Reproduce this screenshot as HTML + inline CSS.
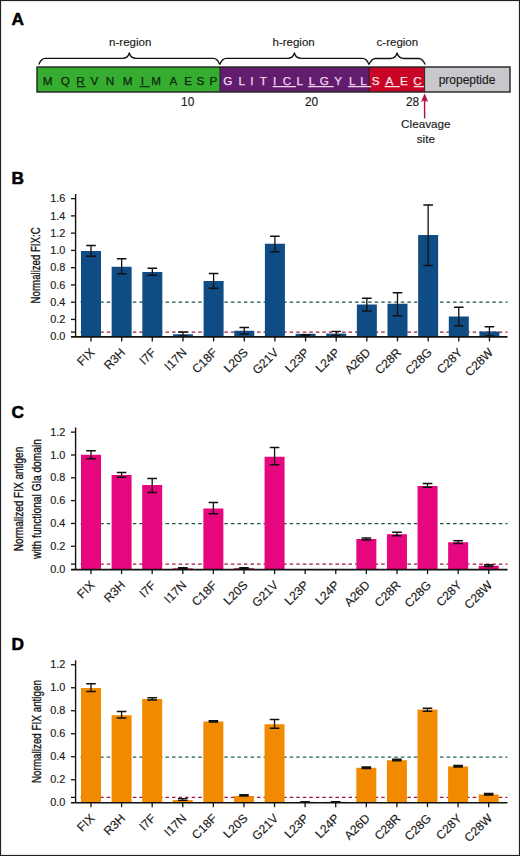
<!DOCTYPE html><html><head><meta charset="utf-8"><style>html,body{margin:0;padding:0;background:#fff;}svg{display:block;font-family:"Liberation Sans", sans-serif;}.t{fill:#1a1a1a;stroke:#1a1a1a;stroke-width:0.15px;}.yl{fill:#111;stroke:#111;stroke-width:0.32px;}</style></head><body>
<svg width="520" height="856" viewBox="0 0 520 856">
<rect x="0" y="0" width="520" height="856" fill="#fff"/>
<text x="11.6" y="24.9" font-size="17.3" font-weight="bold" fill="#000" stroke="#000" stroke-width="0.55" stroke-linejoin="round">A</text>
<text x="11.6" y="183.9" font-size="17.3" font-weight="bold" fill="#000" stroke="#000" stroke-width="0.55" stroke-linejoin="round">B</text>
<text x="11.6" y="417.9" font-size="17.3" font-weight="bold" fill="#000" stroke="#000" stroke-width="0.55" stroke-linejoin="round">C</text>
<text x="11.6" y="649.9" font-size="17.3" font-weight="bold" fill="#000" stroke="#000" stroke-width="0.55" stroke-linejoin="round">D</text>
<rect x="37" y="67.0" width="183" height="25.0" fill="#36ad30"/>
<rect x="220" y="67.0" width="149" height="25.0" fill="#621d6e"/>
<rect x="369" y="67.0" width="55.6" height="25.0" fill="#c80526"/>
<rect x="424.6" y="67.0" width="85.4" height="25.0" fill="#c8c7cb"/>
<rect x="37" y="67.0" width="473" height="25.0" fill="none" stroke="#222" stroke-width="1.4"/>
<path d="M220 67.0V92.0M369 67.0V92.0M424.6 67.0V92.0" stroke="#222" stroke-width="1" fill="none"/>
<text x="47.50" y="84.6" text-anchor="middle" font-size="11.7" fill="#0c2a0c" stroke="#0c2a0c" stroke-width="0.25">M</text>
<text x="65.40" y="84.6" text-anchor="middle" font-size="11.7" fill="#0c2a0c" stroke="#0c2a0c" stroke-width="0.25">Q</text>
<text x="80.40" y="84.6" text-anchor="middle" font-size="11.7" fill="#0c2a0c" stroke="#0c2a0c" stroke-width="0.25">R</text>
<text x="94.50" y="84.6" text-anchor="middle" font-size="11.7" fill="#0c2a0c" stroke="#0c2a0c" stroke-width="0.25">V</text>
<text x="109.90" y="84.6" text-anchor="middle" font-size="11.7" fill="#0c2a0c" stroke="#0c2a0c" stroke-width="0.25">N</text>
<text x="127.50" y="84.6" text-anchor="middle" font-size="11.7" fill="#0c2a0c" stroke="#0c2a0c" stroke-width="0.25">M</text>
<text x="142.30" y="84.6" text-anchor="middle" font-size="11.7" fill="#0c2a0c" stroke="#0c2a0c" stroke-width="0.25">I</text>
<text x="156.20" y="84.6" text-anchor="middle" font-size="11.7" fill="#0c2a0c" stroke="#0c2a0c" stroke-width="0.25">M</text>
<text x="173.50" y="84.6" text-anchor="middle" font-size="11.7" fill="#0c2a0c" stroke="#0c2a0c" stroke-width="0.25">A</text>
<text x="188.20" y="84.6" text-anchor="middle" font-size="11.7" fill="#0c2a0c" stroke="#0c2a0c" stroke-width="0.25">E</text>
<text x="200.50" y="84.6" text-anchor="middle" font-size="11.7" fill="#0c2a0c" stroke="#0c2a0c" stroke-width="0.25">S</text>
<text x="213.30" y="84.6" text-anchor="middle" font-size="11.7" fill="#0c2a0c" stroke="#0c2a0c" stroke-width="0.25">P</text>
<text x="227.70" y="84.6" text-anchor="middle" font-size="11.7" fill="#f2d6f2" stroke="#f2d6f2" stroke-width="0.25">G</text>
<text x="241.70" y="84.6" text-anchor="middle" font-size="11.7" fill="#f2d6f2" stroke="#f2d6f2" stroke-width="0.25">L</text>
<text x="251.90" y="84.6" text-anchor="middle" font-size="11.7" fill="#f2d6f2" stroke="#f2d6f2" stroke-width="0.25">I</text>
<text x="263.30" y="84.6" text-anchor="middle" font-size="11.7" fill="#f2d6f2" stroke="#f2d6f2" stroke-width="0.25">T</text>
<text x="274.50" y="84.6" text-anchor="middle" font-size="11.7" fill="#f2d6f2" stroke="#f2d6f2" stroke-width="0.25">I</text>
<text x="286.90" y="84.6" text-anchor="middle" font-size="11.7" fill="#f2d6f2" stroke="#f2d6f2" stroke-width="0.25">C</text>
<text x="299.70" y="84.6" text-anchor="middle" font-size="11.7" fill="#f2d6f2" stroke="#f2d6f2" stroke-width="0.25">L</text>
<text x="311.90" y="84.6" text-anchor="middle" font-size="11.7" fill="#f2d6f2" stroke="#f2d6f2" stroke-width="0.25">L</text>
<text x="324.40" y="84.6" text-anchor="middle" font-size="11.7" fill="#f2d6f2" stroke="#f2d6f2" stroke-width="0.25">G</text>
<text x="338.10" y="84.6" text-anchor="middle" font-size="11.7" fill="#f2d6f2" stroke="#f2d6f2" stroke-width="0.25">Y</text>
<text x="352.20" y="84.6" text-anchor="middle" font-size="11.7" fill="#f2d6f2" stroke="#f2d6f2" stroke-width="0.25">L</text>
<text x="363.40" y="84.6" text-anchor="middle" font-size="11.7" fill="#f2d6f2" stroke="#f2d6f2" stroke-width="0.25">L</text>
<text x="375.70" y="84.6" text-anchor="middle" font-size="11.7" fill="#fde2e8" stroke="#fde2e8" stroke-width="0.25">S</text>
<text x="389.40" y="84.6" text-anchor="middle" font-size="11.7" fill="#fde2e8" stroke="#fde2e8" stroke-width="0.25">A</text>
<text x="404.00" y="84.6" text-anchor="middle" font-size="11.7" fill="#fde2e8" stroke="#fde2e8" stroke-width="0.25">E</text>
<text x="417.60" y="84.6" text-anchor="middle" font-size="11.7" fill="#fde2e8" stroke="#fde2e8" stroke-width="0.25">C</text>
<path d="M76.9 86.6H85.4M139.6 86.6H149.6" stroke="#0c2a0c" stroke-width="1.1"/>
<path d="M272.7 86.6H295.8M308.1 86.6H333.8M348.1 86.6H369" stroke="#f2d6f2" stroke-width="1.1"/>
<path d="M369 86.6H371.3M384.6 86.6H399.8M413.6 86.6H424" stroke="#fde2e8" stroke-width="1.1"/>
<text x="467" y="84.2" text-anchor="middle" font-size="12" class="t">propeptide</text>
<text x="187.7" y="106.4" text-anchor="middle" font-size="11.9" class="t">10</text>
<text x="311.6" y="106.4" text-anchor="middle" font-size="11.9" class="t">20</text>
<text x="412.6" y="106.4" text-anchor="middle" font-size="11.9" class="t">28</text>
<path d="M424.6 99V118.4" stroke="#b0103c" stroke-width="1.4"/>
<path d="M424.6 93.8L427.8 101.6Q424.6 99.6 421.4 101.6Z" fill="#b0103c" stroke="#b0103c" stroke-width="0.4" stroke-linejoin="round"/>
<text x="425.8" y="128.4" text-anchor="middle" font-size="11.7" class="t">Cleavage</text>
<text x="425.8" y="143.4" text-anchor="middle" font-size="11.7" class="t">site</text>
<path d="M38.80 64.40C40.42 60.50 41.72 58.40 45.30 58.40H122.30C126.15 58.40 128.46 55.97 129.30 53.00C130.14 55.97 132.45 58.40 136.30 58.40H213.30C216.88 58.40 218.18 60.50 219.80 64.40" stroke="#111" stroke-width="1.3" fill="none" stroke-linejoin="round"/>
<path d="M219.80 64.40C221.43 60.50 222.73 58.40 226.30 58.40H287.40C291.25 58.40 293.56 55.97 294.40 53.00C295.24 55.97 297.55 58.40 301.40 58.40H362.50C366.07 58.40 367.38 60.50 369.00 64.40" stroke="#111" stroke-width="1.3" fill="none" stroke-linejoin="round"/>
<path d="M369.00 64.60C370.62 60.63 371.93 58.50 375.50 58.50H390.10C393.95 58.50 396.26 56.02 397.10 53.00C397.94 56.02 400.25 58.50 404.10 58.50H418.70C422.27 58.50 423.57 60.63 425.20 64.60" stroke="#111" stroke-width="1.3" fill="none" stroke-linejoin="round"/>
<text x="130.2" y="45.6" text-anchor="middle" font-size="11.5" class="t">n-region</text>
<text x="293.6" y="45.6" text-anchor="middle" font-size="11.5" class="t">h-region</text>
<text x="397.4" y="45.8" text-anchor="middle" font-size="11.5" class="t">c-region</text>
<line x1="80.56" y1="302.20" x2="507.5" y2="302.20" stroke="#1a5444" stroke-width="1.3" stroke-dasharray="3.5 3.036"/>
<line x1="80.56" y1="332.10" x2="507.5" y2="332.10" stroke="#9c1c36" stroke-width="1.3" stroke-dasharray="3.5 3.036"/>
<path d="M71.00 332.10H75.60" stroke="#111" stroke-width="1.3"/>
<rect x="81.00" y="251.00" width="20.0" height="85.90" fill="#0f4c84"/>
<rect x="111.65" y="266.75" width="20.0" height="70.15" fill="#0f4c84"/>
<rect x="142.30" y="272.00" width="20.0" height="64.90" fill="#0f4c84"/>
<rect x="172.95" y="334.25" width="20.0" height="2.65" fill="#0f4c84"/>
<rect x="203.60" y="281.00" width="20.0" height="55.90" fill="#0f4c84"/>
<rect x="234.25" y="330.75" width="20.0" height="6.15" fill="#0f4c84"/>
<rect x="264.90" y="243.75" width="20.0" height="93.15" fill="#0f4c84"/>
<rect x="295.55" y="333.80" width="20.0" height="3.10" fill="#0f4c84"/>
<rect x="326.20" y="333.60" width="20.0" height="3.30" fill="#0f4c84"/>
<rect x="356.85" y="304.50" width="20.0" height="32.40" fill="#0f4c84"/>
<rect x="387.50" y="303.75" width="20.0" height="33.15" fill="#0f4c84"/>
<rect x="418.15" y="235.00" width="20.0" height="101.90" fill="#0f4c84"/>
<rect x="448.80" y="316.50" width="20.0" height="20.40" fill="#0f4c84"/>
<rect x="479.45" y="331.50" width="20.0" height="5.40" fill="#0f4c84"/>
<path d="M86.20 245.50H95.80M91.00 245.50V256.25M86.20 256.25H95.80" stroke="#111" stroke-width="1.3" fill="none"/>
<path d="M116.85 258.75H126.45M121.65 258.75V273.75M116.85 273.75H126.45" stroke="#111" stroke-width="1.3" fill="none"/>
<path d="M147.50 268.25H157.10M152.30 268.25V275.25M147.50 275.25H157.10" stroke="#111" stroke-width="1.3" fill="none"/>
<path d="M178.15 332.00H187.75M182.95 332.00V336.00M178.15 336.00H187.75" stroke="#111" stroke-width="1.3" fill="none"/>
<path d="M208.80 273.50H218.40M213.60 273.50V288.25M208.80 288.25H218.40" stroke="#111" stroke-width="1.3" fill="none"/>
<path d="M239.45 327.50H249.05M244.25 327.50V334.00M239.45 334.00H249.05" stroke="#111" stroke-width="1.3" fill="none"/>
<path d="M270.10 236.25H279.70M274.90 236.25V251.75M270.10 251.75H279.70" stroke="#111" stroke-width="1.3" fill="none"/>
<path d="M300.75 334.60H310.35M305.55 334.60V335.40M300.75 335.40H310.35" stroke="#111" stroke-width="1.3" fill="none"/>
<path d="M331.40 331.40H341.00M336.20 331.40V335.50M331.40 335.50H341.00" stroke="#111" stroke-width="1.3" fill="none"/>
<path d="M362.05 298.25H371.65M366.85 298.25V311.00M362.05 311.00H371.65" stroke="#111" stroke-width="1.3" fill="none"/>
<path d="M392.70 292.75H402.30M397.50 292.75V315.75M392.70 315.75H402.30" stroke="#111" stroke-width="1.3" fill="none"/>
<path d="M423.35 205.00H432.95M428.15 205.00V265.50M423.35 265.50H432.95" stroke="#111" stroke-width="1.3" fill="none"/>
<path d="M454.00 307.25H463.60M458.80 307.25V325.75M454.00 325.75H463.60" stroke="#111" stroke-width="1.3" fill="none"/>
<path d="M484.65 326.75H494.25M489.45 326.75V336.00M484.65 336.00H494.25" stroke="#111" stroke-width="1.3" fill="none"/>
<path d="M75.60 194.00V336.90" stroke="#111" stroke-width="1.4" fill="none"/>
<path d="M71.00 336.90H507.5" stroke="#111" stroke-width="1.6" fill="none"/>
<text x="65.3" y="340.40" text-anchor="end" font-size="10.9" class="t">0.0</text>
<path d="M71.00 319.44H75.60" stroke="#111" stroke-width="1.3"/>
<text x="65.3" y="323.14" text-anchor="end" font-size="10.9" class="t">0.2</text>
<path d="M71.00 302.18H75.60" stroke="#111" stroke-width="1.3"/>
<text x="65.3" y="305.88" text-anchor="end" font-size="10.9" class="t">0.4</text>
<path d="M71.00 284.92H75.60" stroke="#111" stroke-width="1.3"/>
<text x="65.3" y="288.62" text-anchor="end" font-size="10.9" class="t">0.6</text>
<path d="M71.00 267.66H75.60" stroke="#111" stroke-width="1.3"/>
<text x="65.3" y="271.36" text-anchor="end" font-size="10.9" class="t">0.8</text>
<path d="M71.00 250.40H75.60" stroke="#111" stroke-width="1.3"/>
<text x="65.3" y="254.10" text-anchor="end" font-size="10.9" class="t">1.0</text>
<path d="M71.00 233.14H75.60" stroke="#111" stroke-width="1.3"/>
<text x="65.3" y="236.84" text-anchor="end" font-size="10.9" class="t">1.2</text>
<path d="M71.00 215.88H75.60" stroke="#111" stroke-width="1.3"/>
<text x="65.3" y="219.58" text-anchor="end" font-size="10.9" class="t">1.4</text>
<path d="M71.00 198.62H75.60" stroke="#111" stroke-width="1.3"/>
<text x="65.3" y="202.32" text-anchor="end" font-size="10.9" class="t">1.6</text>
<path d="M91.00 336.90V341.40" stroke="#111" stroke-width="1.3"/>
<text x="95.40" y="353.20" text-anchor="end" font-size="12.1" class="t" transform="rotate(-45 95.40 353.20)">FIX</text>
<path d="M121.65 336.90V341.40" stroke="#111" stroke-width="1.3"/>
<text x="126.05" y="353.20" text-anchor="end" font-size="12.1" class="t" transform="rotate(-45 126.05 353.20)">R3H</text>
<path d="M152.30 336.90V341.40" stroke="#111" stroke-width="1.3"/>
<text x="156.70" y="353.20" text-anchor="end" font-size="12.1" class="t" transform="rotate(-45 156.70 353.20)">I7F</text>
<path d="M182.95 336.90V341.40" stroke="#111" stroke-width="1.3"/>
<text x="187.35" y="353.20" text-anchor="end" font-size="12.1" class="t" transform="rotate(-45 187.35 353.20)">I17N</text>
<path d="M213.60 336.90V341.40" stroke="#111" stroke-width="1.3"/>
<text x="218.00" y="353.20" text-anchor="end" font-size="12.1" class="t" transform="rotate(-45 218.00 353.20)">C18F</text>
<path d="M244.25 336.90V341.40" stroke="#111" stroke-width="1.3"/>
<text x="248.65" y="353.20" text-anchor="end" font-size="12.1" class="t" transform="rotate(-45 248.65 353.20)">L20S</text>
<path d="M274.90 336.90V341.40" stroke="#111" stroke-width="1.3"/>
<text x="279.30" y="353.20" text-anchor="end" font-size="12.1" class="t" transform="rotate(-45 279.30 353.20)">G21V</text>
<path d="M305.55 336.90V341.40" stroke="#111" stroke-width="1.3"/>
<text x="309.95" y="353.20" text-anchor="end" font-size="12.1" class="t" transform="rotate(-45 309.95 353.20)">L23P</text>
<path d="M336.20 336.90V341.40" stroke="#111" stroke-width="1.3"/>
<text x="340.60" y="353.20" text-anchor="end" font-size="12.1" class="t" transform="rotate(-45 340.60 353.20)">L24P</text>
<path d="M366.85 336.90V341.40" stroke="#111" stroke-width="1.3"/>
<text x="371.25" y="353.20" text-anchor="end" font-size="12.1" class="t" transform="rotate(-45 371.25 353.20)">A26D</text>
<path d="M397.50 336.90V341.40" stroke="#111" stroke-width="1.3"/>
<text x="401.90" y="353.20" text-anchor="end" font-size="12.1" class="t" transform="rotate(-45 401.90 353.20)">C28R</text>
<path d="M428.15 336.90V341.40" stroke="#111" stroke-width="1.3"/>
<text x="432.55" y="353.20" text-anchor="end" font-size="12.1" class="t" transform="rotate(-45 432.55 353.20)">C28G</text>
<path d="M458.80 336.90V341.40" stroke="#111" stroke-width="1.3"/>
<text x="463.20" y="353.20" text-anchor="end" font-size="12.1" class="t" transform="rotate(-45 463.20 353.20)">C28Y</text>
<path d="M489.45 336.90V341.40" stroke="#111" stroke-width="1.3"/>
<text x="493.85" y="353.20" text-anchor="end" font-size="12.1" class="t" transform="rotate(-45 493.85 353.20)">C28W</text>
<text x="0" y="0" text-anchor="middle" font-size="13" class="yl" textLength="76.0" lengthAdjust="spacingAndGlyphs" transform="translate(39.80 265.40) rotate(-90)">Normalized FIX:C</text>
<line x1="80.56" y1="523.70" x2="507.5" y2="523.70" stroke="#1a5444" stroke-width="1.3" stroke-dasharray="3.5 3.036"/>
<line x1="80.56" y1="564.10" x2="507.5" y2="564.10" stroke="#9c1c36" stroke-width="1.3" stroke-dasharray="3.5 3.036"/>
<path d="M71.00 564.10H75.60" stroke="#111" stroke-width="1.3"/>
<rect x="81.00" y="454.75" width="20.0" height="114.85" fill="#e6067e"/>
<rect x="111.59" y="475.00" width="20.0" height="94.60" fill="#e6067e"/>
<rect x="142.19" y="485.00" width="20.0" height="84.60" fill="#e6067e"/>
<rect x="172.78" y="568.30" width="20.0" height="1.30" fill="#e6067e"/>
<rect x="203.38" y="508.50" width="20.0" height="61.10" fill="#e6067e"/>
<rect x="233.97" y="568.20" width="20.0" height="1.40" fill="#e6067e"/>
<rect x="264.57" y="456.75" width="20.0" height="112.85" fill="#e6067e"/>
<rect x="356.36" y="539.00" width="20.0" height="30.60" fill="#e6067e"/>
<rect x="386.95" y="534.25" width="20.0" height="35.35" fill="#e6067e"/>
<rect x="417.54" y="486.00" width="20.0" height="83.60" fill="#e6067e"/>
<rect x="448.14" y="542.25" width="20.0" height="27.35" fill="#e6067e"/>
<rect x="478.74" y="565.75" width="20.0" height="3.85" fill="#e6067e"/>
<path d="M86.20 450.75H95.80M91.00 450.75V458.75M86.20 458.75H95.80" stroke="#111" stroke-width="1.3" fill="none"/>
<path d="M116.80 472.50H126.39M121.59 472.50V477.25M116.80 477.25H126.39" stroke="#111" stroke-width="1.3" fill="none"/>
<path d="M147.39 478.50H156.99M152.19 478.50V492.50M147.39 492.50H156.99" stroke="#111" stroke-width="1.3" fill="none"/>
<path d="M177.98 567.60H187.59M182.78 567.60V569.00M177.98 569.00H187.59" stroke="#111" stroke-width="1.3" fill="none"/>
<path d="M208.58 502.50H218.18M213.38 502.50V513.75M208.58 513.75H218.18" stroke="#111" stroke-width="1.3" fill="none"/>
<path d="M239.17 567.60H248.78M243.97 567.60V569.00M239.17 569.00H248.78" stroke="#111" stroke-width="1.3" fill="none"/>
<path d="M269.77 447.50H279.37M274.57 447.50V464.75M269.77 464.75H279.37" stroke="#111" stroke-width="1.3" fill="none"/>
<path d="M361.56 538.00H371.16M366.36 538.00V540.00M361.56 540.00H371.16" stroke="#111" stroke-width="1.3" fill="none"/>
<path d="M392.15 532.25H401.75M396.95 532.25V535.75M392.15 535.75H401.75" stroke="#111" stroke-width="1.3" fill="none"/>
<path d="M422.74 483.50H432.34M427.54 483.50V487.25M422.74 487.25H432.34" stroke="#111" stroke-width="1.3" fill="none"/>
<path d="M453.34 540.75H462.94M458.14 540.75V543.50M453.34 543.50H462.94" stroke="#111" stroke-width="1.3" fill="none"/>
<path d="M483.94 564.75H493.54M488.74 564.75V566.50M483.94 566.50H493.54" stroke="#111" stroke-width="1.3" fill="none"/>
<path d="M75.60 427.50V569.60" stroke="#111" stroke-width="1.4" fill="none"/>
<path d="M71.00 569.60H507.5" stroke="#111" stroke-width="1.6" fill="none"/>
<text x="65.3" y="572.80" text-anchor="end" font-size="10.9" class="t">0.0</text>
<path d="M71.00 546.27H75.60" stroke="#111" stroke-width="1.3"/>
<text x="65.3" y="549.97" text-anchor="end" font-size="10.9" class="t">0.2</text>
<path d="M71.00 523.44H75.60" stroke="#111" stroke-width="1.3"/>
<text x="65.3" y="527.14" text-anchor="end" font-size="10.9" class="t">0.4</text>
<path d="M71.00 500.61H75.60" stroke="#111" stroke-width="1.3"/>
<text x="65.3" y="504.31" text-anchor="end" font-size="10.9" class="t">0.6</text>
<path d="M71.00 477.78H75.60" stroke="#111" stroke-width="1.3"/>
<text x="65.3" y="481.48" text-anchor="end" font-size="10.9" class="t">0.8</text>
<path d="M71.00 454.95H75.60" stroke="#111" stroke-width="1.3"/>
<text x="65.3" y="458.65" text-anchor="end" font-size="10.9" class="t">1.0</text>
<path d="M71.00 432.12H75.60" stroke="#111" stroke-width="1.3"/>
<text x="65.3" y="435.82" text-anchor="end" font-size="10.9" class="t">1.2</text>
<path d="M91.00 569.60V574.10" stroke="#111" stroke-width="1.3"/>
<text x="95.40" y="585.90" text-anchor="end" font-size="12.1" class="t" transform="rotate(-45 95.40 585.90)">FIX</text>
<path d="M121.59 569.60V574.10" stroke="#111" stroke-width="1.3"/>
<text x="126.00" y="585.90" text-anchor="end" font-size="12.1" class="t" transform="rotate(-45 126.00 585.90)">R3H</text>
<path d="M152.19 569.60V574.10" stroke="#111" stroke-width="1.3"/>
<text x="156.59" y="585.90" text-anchor="end" font-size="12.1" class="t" transform="rotate(-45 156.59 585.90)">I7F</text>
<path d="M182.78 569.60V574.10" stroke="#111" stroke-width="1.3"/>
<text x="187.19" y="585.90" text-anchor="end" font-size="12.1" class="t" transform="rotate(-45 187.19 585.90)">I17N</text>
<path d="M213.38 569.60V574.10" stroke="#111" stroke-width="1.3"/>
<text x="217.78" y="585.90" text-anchor="end" font-size="12.1" class="t" transform="rotate(-45 217.78 585.90)">C18F</text>
<path d="M243.97 569.60V574.10" stroke="#111" stroke-width="1.3"/>
<text x="248.38" y="585.90" text-anchor="end" font-size="12.1" class="t" transform="rotate(-45 248.38 585.90)">L20S</text>
<path d="M274.57 569.60V574.10" stroke="#111" stroke-width="1.3"/>
<text x="278.97" y="585.90" text-anchor="end" font-size="12.1" class="t" transform="rotate(-45 278.97 585.90)">G21V</text>
<path d="M305.16 569.60V574.10" stroke="#111" stroke-width="1.3"/>
<text x="309.56" y="585.90" text-anchor="end" font-size="12.1" class="t" transform="rotate(-45 309.56 585.90)">L23P</text>
<path d="M335.76 569.60V574.10" stroke="#111" stroke-width="1.3"/>
<text x="340.16" y="585.90" text-anchor="end" font-size="12.1" class="t" transform="rotate(-45 340.16 585.90)">L24P</text>
<path d="M366.36 569.60V574.10" stroke="#111" stroke-width="1.3"/>
<text x="370.75" y="585.90" text-anchor="end" font-size="12.1" class="t" transform="rotate(-45 370.75 585.90)">A26D</text>
<path d="M396.95 569.60V574.10" stroke="#111" stroke-width="1.3"/>
<text x="401.35" y="585.90" text-anchor="end" font-size="12.1" class="t" transform="rotate(-45 401.35 585.90)">C28R</text>
<path d="M427.54 569.60V574.10" stroke="#111" stroke-width="1.3"/>
<text x="431.94" y="585.90" text-anchor="end" font-size="12.1" class="t" transform="rotate(-45 431.94 585.90)">C28G</text>
<path d="M458.14 569.60V574.10" stroke="#111" stroke-width="1.3"/>
<text x="462.54" y="585.90" text-anchor="end" font-size="12.1" class="t" transform="rotate(-45 462.54 585.90)">C28Y</text>
<path d="M488.74 569.60V574.10" stroke="#111" stroke-width="1.3"/>
<text x="493.13" y="585.90" text-anchor="end" font-size="12.1" class="t" transform="rotate(-45 493.13 585.90)">C28W</text>
<text x="0" y="0" text-anchor="middle" font-size="13" class="yl" textLength="104.5" lengthAdjust="spacingAndGlyphs" transform="translate(22.60 499.00) rotate(-90)">Normalized FIX antigen</text>
<text x="0" y="0" text-anchor="middle" font-size="13" class="yl" textLength="120.0" lengthAdjust="spacingAndGlyphs" transform="translate(40.60 499.00) rotate(-90)">with functional Gla domain</text>
<line x1="80.56" y1="757.20" x2="507.5" y2="757.20" stroke="#20625e" stroke-width="1.3" stroke-dasharray="3.5 3.036"/>
<line x1="80.56" y1="797.40" x2="507.5" y2="797.40" stroke="#9c1c36" stroke-width="1.3" stroke-dasharray="3.5 3.036"/>
<path d="M71.00 797.40H75.60" stroke="#111" stroke-width="1.3"/>
<rect x="81.00" y="688.00" width="20.0" height="114.70" fill="#f28a00"/>
<rect x="111.59" y="715.25" width="20.0" height="87.45" fill="#f28a00"/>
<rect x="142.18" y="699.00" width="20.0" height="103.70" fill="#f28a00"/>
<rect x="172.77" y="800.10" width="20.0" height="2.60" fill="#f28a00"/>
<rect x="203.36" y="721.50" width="20.0" height="81.20" fill="#f28a00"/>
<rect x="233.95" y="796.00" width="20.0" height="6.70" fill="#f28a00"/>
<rect x="264.54" y="724.25" width="20.0" height="78.45" fill="#f28a00"/>
<rect x="295.13" y="801.80" width="20.0" height="0.90" fill="#f28a00"/>
<rect x="325.72" y="801.80" width="20.0" height="0.90" fill="#f28a00"/>
<rect x="356.31" y="767.75" width="20.0" height="34.95" fill="#f28a00"/>
<rect x="386.90" y="760.25" width="20.0" height="42.45" fill="#f28a00"/>
<rect x="417.49" y="709.60" width="20.0" height="93.10" fill="#f28a00"/>
<rect x="448.08" y="766.50" width="20.0" height="36.20" fill="#f28a00"/>
<rect x="478.67" y="794.50" width="20.0" height="8.20" fill="#f28a00"/>
<path d="M86.20 683.75H95.80M91.00 683.75V691.50M86.20 691.50H95.80" stroke="#111" stroke-width="1.3" fill="none"/>
<path d="M116.79 711.50H126.39M121.59 711.50V718.00M116.79 718.00H126.39" stroke="#111" stroke-width="1.3" fill="none"/>
<path d="M147.38 697.75H156.98M152.18 697.75V700.00M147.38 700.00H156.98" stroke="#111" stroke-width="1.3" fill="none"/>
<path d="M177.97 798.70H187.57M182.77 798.70V800.30M177.97 800.30H187.57" stroke="#111" stroke-width="1.3" fill="none"/>
<path d="M208.56 720.75H218.16M213.36 720.75V722.00M208.56 722.00H218.16" stroke="#111" stroke-width="1.3" fill="none"/>
<path d="M239.15 794.60H248.75M243.95 794.60V796.00M239.15 796.00H248.75" stroke="#111" stroke-width="1.3" fill="none"/>
<path d="M269.74 719.50H279.34M274.54 719.50V728.25M269.74 728.25H279.34" stroke="#111" stroke-width="1.3" fill="none"/>
<path d="M300.33 801.60H309.93M305.13 801.60V802.30M300.33 802.30H309.93" stroke="#111" stroke-width="1.3" fill="none"/>
<path d="M330.92 801.60H340.52M335.72 801.60V802.30M330.92 802.30H340.52" stroke="#111" stroke-width="1.3" fill="none"/>
<path d="M361.51 767.00H371.11M366.31 767.00V768.50M361.51 768.50H371.11" stroke="#111" stroke-width="1.3" fill="none"/>
<path d="M392.10 759.25H401.70M396.90 759.25V760.75M392.10 760.75H401.70" stroke="#111" stroke-width="1.3" fill="none"/>
<path d="M422.69 708.25H432.29M427.49 708.25V711.25M422.69 711.25H432.29" stroke="#111" stroke-width="1.3" fill="none"/>
<path d="M453.28 765.50H462.88M458.08 765.50V767.00M453.28 767.00H462.88" stroke="#111" stroke-width="1.3" fill="none"/>
<path d="M483.87 793.50H493.47M488.67 793.50V795.00M483.87 795.00H493.47" stroke="#111" stroke-width="1.3" fill="none"/>
<path d="M75.60 660.30V802.70" stroke="#111" stroke-width="1.4" fill="none"/>
<path d="M71.00 802.70H507.5" stroke="#111" stroke-width="1.6" fill="none"/>
<text x="65.3" y="806.45" text-anchor="end" font-size="10.9" class="t">0.0</text>
<path d="M71.00 779.75H75.60" stroke="#111" stroke-width="1.3"/>
<text x="65.3" y="783.45" text-anchor="end" font-size="10.9" class="t">0.2</text>
<path d="M71.00 756.75H75.60" stroke="#111" stroke-width="1.3"/>
<text x="65.3" y="760.45" text-anchor="end" font-size="10.9" class="t">0.4</text>
<path d="M71.00 733.75H75.60" stroke="#111" stroke-width="1.3"/>
<text x="65.3" y="737.45" text-anchor="end" font-size="10.9" class="t">0.6</text>
<path d="M71.00 710.75H75.60" stroke="#111" stroke-width="1.3"/>
<text x="65.3" y="714.45" text-anchor="end" font-size="10.9" class="t">0.8</text>
<path d="M71.00 687.75H75.60" stroke="#111" stroke-width="1.3"/>
<text x="65.3" y="691.45" text-anchor="end" font-size="10.9" class="t">1.0</text>
<path d="M71.00 664.75H75.60" stroke="#111" stroke-width="1.3"/>
<text x="65.3" y="668.45" text-anchor="end" font-size="10.9" class="t">1.2</text>
<path d="M91.00 802.70V807.20" stroke="#111" stroke-width="1.3"/>
<text x="95.40" y="819.00" text-anchor="end" font-size="12.1" class="t" transform="rotate(-45 95.40 819.00)">FIX</text>
<path d="M121.59 802.70V807.20" stroke="#111" stroke-width="1.3"/>
<text x="125.99" y="819.00" text-anchor="end" font-size="12.1" class="t" transform="rotate(-45 125.99 819.00)">R3H</text>
<path d="M152.18 802.70V807.20" stroke="#111" stroke-width="1.3"/>
<text x="156.58" y="819.00" text-anchor="end" font-size="12.1" class="t" transform="rotate(-45 156.58 819.00)">I7F</text>
<path d="M182.77 802.70V807.20" stroke="#111" stroke-width="1.3"/>
<text x="187.17" y="819.00" text-anchor="end" font-size="12.1" class="t" transform="rotate(-45 187.17 819.00)">I17N</text>
<path d="M213.36 802.70V807.20" stroke="#111" stroke-width="1.3"/>
<text x="217.76" y="819.00" text-anchor="end" font-size="12.1" class="t" transform="rotate(-45 217.76 819.00)">C18F</text>
<path d="M243.95 802.70V807.20" stroke="#111" stroke-width="1.3"/>
<text x="248.35" y="819.00" text-anchor="end" font-size="12.1" class="t" transform="rotate(-45 248.35 819.00)">L20S</text>
<path d="M274.54 802.70V807.20" stroke="#111" stroke-width="1.3"/>
<text x="278.94" y="819.00" text-anchor="end" font-size="12.1" class="t" transform="rotate(-45 278.94 819.00)">G21V</text>
<path d="M305.13 802.70V807.20" stroke="#111" stroke-width="1.3"/>
<text x="309.53" y="819.00" text-anchor="end" font-size="12.1" class="t" transform="rotate(-45 309.53 819.00)">L23P</text>
<path d="M335.72 802.70V807.20" stroke="#111" stroke-width="1.3"/>
<text x="340.12" y="819.00" text-anchor="end" font-size="12.1" class="t" transform="rotate(-45 340.12 819.00)">L24P</text>
<path d="M366.31 802.70V807.20" stroke="#111" stroke-width="1.3"/>
<text x="370.71" y="819.00" text-anchor="end" font-size="12.1" class="t" transform="rotate(-45 370.71 819.00)">A26D</text>
<path d="M396.90 802.70V807.20" stroke="#111" stroke-width="1.3"/>
<text x="401.30" y="819.00" text-anchor="end" font-size="12.1" class="t" transform="rotate(-45 401.30 819.00)">C28R</text>
<path d="M427.49 802.70V807.20" stroke="#111" stroke-width="1.3"/>
<text x="431.89" y="819.00" text-anchor="end" font-size="12.1" class="t" transform="rotate(-45 431.89 819.00)">C28G</text>
<path d="M458.08 802.70V807.20" stroke="#111" stroke-width="1.3"/>
<text x="462.48" y="819.00" text-anchor="end" font-size="12.1" class="t" transform="rotate(-45 462.48 819.00)">C28Y</text>
<path d="M488.67 802.70V807.20" stroke="#111" stroke-width="1.3"/>
<text x="493.07" y="819.00" text-anchor="end" font-size="12.1" class="t" transform="rotate(-45 493.07 819.00)">C28W</text>
<text x="0" y="0" text-anchor="middle" font-size="13" class="yl" textLength="103.0" lengthAdjust="spacingAndGlyphs" transform="translate(40.50 731.50) rotate(-90)">Normalized FIX antigen</text>
<rect x="0.5" y="0.5" width="519" height="855" fill="none" stroke="#222" stroke-width="1.2"/>
</svg></body></html>
